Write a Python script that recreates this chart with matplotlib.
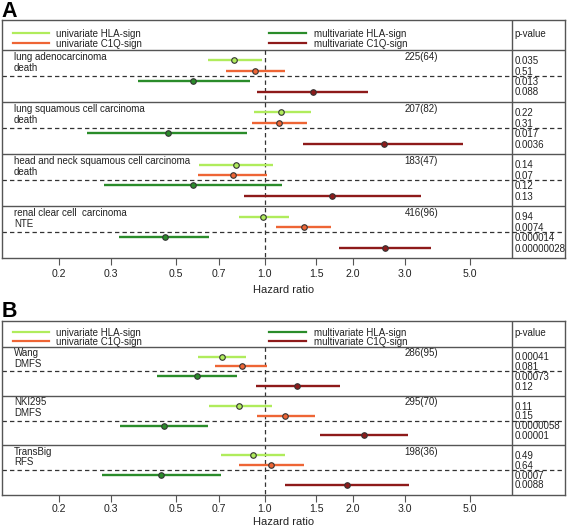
import numpy as np
import matplotlib
matplotlib.use('Agg')
import matplotlib.pyplot as plt
from matplotlib.transforms import blended_transform_factory

plt.rcParams['font.family'] = ['Liberation Sans', 'DejaVu Sans']

# Panel A data
a_names = ['lung adenocarcinoma', 'lung squamous cell carcinoma',
           'head and neck squamous cell carcinoma', 'renal clear cell  carcinoma']
a_endpoints = ['death', 'death', 'death', 'NTE']
a_n = ['225(64)', '207(82)', '183(47)', '416(96)']
a_uni_hla_hr = [0.79, 1.14, 0.80, 0.99]
a_uni_hla_lo = [0.64, 0.92, 0.60, 0.82]
a_uni_hla_hi = [0.98, 1.44, 1.07, 1.21]
a_uni_c1q_hr = [0.93, 1.12, 0.78, 1.36]
a_uni_c1q_lo = [0.74, 0.905, 0.595, 1.09]
a_uni_c1q_hi = [1.17, 1.39, 1.02, 1.68]
a_mul_hla_hr = [0.57, 0.47, 0.57, 0.46]
a_mul_hla_lo = [0.37, 0.25, 0.285, 0.32]
a_mul_hla_hi = [0.89, 0.87, 1.15, 0.65]
a_mul_c1q_hr = [1.46, 2.54, 1.70, 2.57]
a_mul_c1q_lo = [0.945, 1.355, 0.854, 1.79]
a_mul_c1q_hi = [2.25, 4.72, 3.40, 3.68]
a_p_uni_hla = ['0.035', '0.22', '0.14', '0.94']
a_p_uni_c1q = ['0.51', '0.31', '0.07', '0.0074']
a_p_mul_hla = ['0.013', '0.017', '0.12', '0.000014']
a_p_mul_c1q = ['0.088', '0.0036', '0.13', '0.00000028']

# Panel B data
b_names = ['Wang', 'NKI295', 'TransBig']
b_endpoints = ['DMFS', 'DMFS', 'RFS']
b_n = ['286(95)', '295(70)', '198(36)']
b_uni_hla_hr = [0.715, 0.82, 0.917]
b_uni_hla_lo = [0.596, 0.649, 0.711]
b_uni_hla_hi = [0.863, 1.058, 1.177]
b_uni_c1q_hr = [0.836, 1.177, 1.056]
b_uni_c1q_lo = [0.679, 0.945, 0.819]
b_uni_c1q_hi = [1.017, 1.485, 1.367]
b_mul_hla_hr = [0.588, 0.454, 0.445]
b_mul_hla_lo = [0.43, 0.323, 0.28]
b_mul_hla_hi = [0.804, 0.64, 0.711]
b_mul_c1q_hr = [1.293, 2.173, 1.914]
b_mul_c1q_lo = [0.936, 1.54, 1.177]
b_mul_c1q_hi = [1.806, 3.08, 3.10]
b_p_uni_hla = ['0.00041', '0.11', '0.49']
b_p_uni_c1q = ['0.081', '0.15', '0.64']
b_p_mul_hla = ['0.00073', '0.0000058', '0.0007']
b_p_mul_c1q = ['0.12', '0.00001', '0.0088']

series_labels = ['univariate HLA-sign', 'univariate C1Q-sign',
                 'multivariate HLA-sign', 'multivariate C1Q-sign']
colors = ['#b0ec5c', '#ee6535', '#2a8c2a', '#8e1a1a']
ticks = [0.2, 0.3, 0.5, 0.7, 1.0, 1.5, 2.0, 3.0, 5.0]

W, H = 567, 530
box_color = '#555555'
txt_color = '#222222'
fs = 7.0


def panel(top, bottom, leg_h, letter, names, ends, ns, hrs, los, his, pvals,
          tpad=3, lpad=4):
    left, right = 1.7, 565.0
    ax = plt.gcf().add_axes([left / W, 1 - bottom / H, (right - left) / W, (bottom - top) / H])
    box_h = bottom - top
    ax.set_xscale('log')
    ax.set_xlim(0.1277, 10.52)
    ax.set_ylim(box_h, 0)
    tr = blended_transform_factory(ax.transAxes, ax.transData)
    fx = lambda px: (px - left) / (right - left)
    ng = len(names)
    gh = (box_h - leg_h) / ng

    # legend
    for k in range(4):
        col = k // 2
        y = leg_h * (0.43 if k % 2 == 0 else 0.78)
        x0, x1, xt = [(12.7, 49.3, 56), (269.3, 306, 314)][col]
        ax.plot([fx(x0), fx(x1)], [y, y], color=colors[k], lw=1.6, transform=tr)
        ax.text(fx(xt), y + 0.8, series_labels[k], transform=tr, fontsize=fs,
                va='center', ha='left', color=txt_color)
    ax.text(fx(514.3), leg_h * 0.47, 'p-value', transform=tr, fontsize=fs,
            va='center', ha='left', color=txt_color)

    # separators
    ax.plot([0, 1], [leg_h, leg_h], color=box_color, lw=1.0, transform=tr)
    ax.plot([fx(512.3), fx(512.3)], [0, box_h], color=box_color, lw=1.0, transform=tr)
    ax.plot([1.0, 1.0], [leg_h, box_h], color='#333333', lw=0.9, ls=(0, (3.5, 2.5)))
    for i in range(ng):
        g0 = leg_h + i * gh
        if i > 0:
            ax.plot([0, 1], [g0, g0], color=box_color, lw=1.0, transform=tr)
        ax.plot([0, 1], [g0 + gh / 2, g0 + gh / 2], color='#333333', lw=0.9,
                ls=(0, (3.5, 2.5)), transform=tr)
        ax.text(fx(14), g0 + gh * 0.13, names[i], transform=tr, fontsize=fs,
                va='center', ha='left', color=txt_color)
        ax.text(fx(14), g0 + gh * 0.35, ends[i], transform=tr, fontsize=fs,
                va='center', ha='left', color=txt_color)
        ax.text(3.0, g0 + gh * 0.13, ns[i], fontsize=fs, va='center', ha='left',
                color=txt_color)
        for k in range(4):
            y = g0 + gh * (k + 1) / 5
            ax.plot([los[k][i], his[k][i]], [y, y], color=colors[k], lw=1.7,
                    solid_capstyle='butt', zorder=3)
            ax.plot(hrs[k][i], y, 'o', ms=4, mfc=colors[k], mec='#333333',
                    mew=0.8, zorder=4)
            ax.text(fx(514.3), y + 0.8, pvals[k][i], transform=tr, fontsize=fs,
                    va='center', ha='left', color=txt_color)

    for s in ax.spines.values():
        s.set_color(box_color)
        s.set_linewidth(1.0)
    ax.set_xticks(ticks)
    ax.set_xticklabels(['%.1f' % t for t in ticks])
    ax.minorticks_off()
    ax.set_yticks([])
    ax.tick_params(axis='x', direction='out', length=5, width=0.8, color=box_color,
                   labelsize=7.6, labelcolor=txt_color, pad=tpad)
    ax.set_xlabel('Hazard ratio', fontsize=8, color=txt_color, labelpad=lpad)
    plt.gcf().text(1.5 / W, 1 - (top - 3.3) / H, letter, fontsize=15.5, fontweight='bold',
                   va='baseline', ha='left', color='black')
    return ax


fig = plt.figure(figsize=(W / 100, H / 100), dpi=100)
panel(20, 258.3, 30, 'A', a_names, a_endpoints, a_n,
      [a_uni_hla_hr, a_uni_c1q_hr, a_mul_hla_hr, a_mul_c1q_hr],
      [a_uni_hla_lo, a_uni_c1q_lo, a_mul_hla_lo, a_mul_c1q_lo],
      [a_uni_hla_hi, a_uni_c1q_hi, a_mul_hla_hi, a_mul_c1q_hi],
      [a_p_uni_hla, a_p_uni_c1q, a_p_mul_hla, a_p_mul_c1q])
panel(320.7, 494.5, 26, 'B', b_names, b_endpoints, b_n,
      [b_uni_hla_hr, b_uni_c1q_hr, b_mul_hla_hr, b_mul_c1q_hr],
      [b_uni_hla_lo, b_uni_c1q_lo, b_mul_hla_lo, b_mul_c1q_lo],
      [b_uni_hla_hi, b_uni_c1q_hi, b_mul_hla_hi, b_mul_c1q_hi],
      [b_p_uni_hla, b_p_uni_c1q, b_p_mul_hla, b_p_mul_c1q],
      tpad=2, lpad=2)
fig.savefig('out.png', dpi=100)
